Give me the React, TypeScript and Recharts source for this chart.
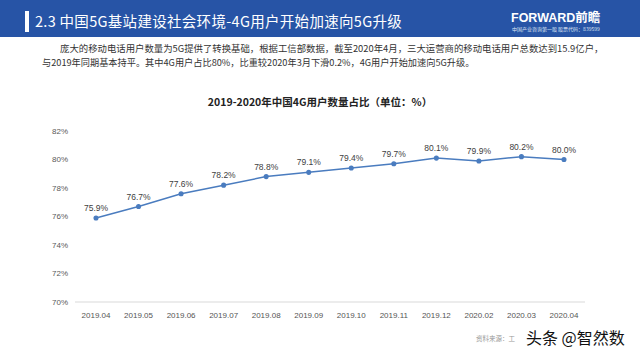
import React from "react";
import { LineChart, Line, XAxis, YAxis, LabelList } from "recharts";

const months = ["2019.04", "2019.05", "2019.06", "2019.07", "2019.08", "2019.09", "2019.10", "2019.11", "2019.12", "2020.02", "2020.03", "2020.04"];
const share4G = [75.9, 76.7, 77.6, 78.2, 78.8, 79.1, 79.4, 79.7, 80.1, 79.9, 80.2, 80.0];
const yTicks = [70, 72, 74, 76, 78, 80, 82];

const data = months.map((m, i) => ({ month: m, value: share4G[i] }));

const cjk = '"Noto Sans CJK SC", "Liberation Sans", sans-serif';
const latin = '"Liberation Sans", Arial, sans-serif';

export default function App() {
  return (
    <div style={{ position: "absolute", left: 0, top: 0, width: 640, height: 360, background: "#fff", overflow: "hidden" }}>
      {/* header */}
      <div style={{ position: "absolute", left: 0, top: 0, width: 640, height: 37, background: "#2754a6" }} />
      <div style={{ position: "absolute", left: 25, top: 11, width: 4, height: 21, background: "#fff" }} />
      <div style={{ position: "absolute", left: 35, top: 9, color: "#fff", fontFamily: cjk, fontSize: 14.5, lineHeight: "24px", whiteSpace: "nowrap", letterSpacing: 0.3 }}>
        2.3 中国5G基站建设社会环境-4G用户开始加速向5G升级
      </div>
      <div style={{ position: "absolute", left: 511, top: 9, color: "#fff", fontFamily: latin, fontWeight: 700, fontSize: 12.5, lineHeight: "16px", whiteSpace: "nowrap" }}>
        FORWARD<span style={{ fontFamily: cjk }}>前瞻</span>
      </div>
      <div style={{ position: "absolute", left: 512, top: 26, color: "#dfe6f3", fontFamily: cjk, fontSize: 5, lineHeight: "6px", whiteSpace: "nowrap" }}>
        中国产业咨询第一股 股票代码：839599
      </div>
      {/* paragraph */}
      <div style={{ position: "absolute", left: 60, top: 41, color: "#333", fontFamily: cjk, fontSize: 9.4, lineHeight: "14px", whiteSpace: "nowrap" }}>
        庞大的移动电话用户数量为5G提供了转换基础，根据工信部数据，截至2020年4月，三大运营商的移动电话用户总数达到15.9亿户，
      </div>
      <div style={{ position: "absolute", left: 42, top: 55, color: "#333", fontFamily: cjk, fontSize: 9.2, lineHeight: "14px", whiteSpace: "nowrap" }}>
        与2019年同期基本持平。其中4G用户占比80%，比重较2020年3月下滑0.2%，4G用户开始加速向5G升级。
      </div>
      {/* chart title */}
      <div style={{ position: "absolute", left: 0, top: 94, width: 640, textAlign: "center", color: "#222", fontFamily: cjk, fontWeight: 700, fontSize: 10.5, lineHeight: "16px" }}>
        2019-2020年中国4G用户数量占比（单位：%）
      </div>
      <div style={{ position: "absolute", left: 0, top: 0 }}>
        <LineChart width={640} height={360} data={data} margin={{ top: 131, right: 55, bottom: 28, left: 35 }}>
          <XAxis
            dataKey="month"
            height={30}
            padding={{ left: 21, right: 21 }}
            axisLine={{ stroke: "#d9d9d9" }}
            tickLine={false}
            tickSize={0}
            tickMargin={10}
            interval={0}
            tick={{ fill: "#555", fontSize: 8, fontFamily: latin }}
          />
          <YAxis
            width={40}
            domain={[70, 82]}
            ticks={yTicks}
            axisLine={false}
            tickLine={false}
            tickSize={0}
            tickMargin={7}
            tickFormatter={(v: number) => `${v}%`}
            tick={{ fill: "#595959", fontSize: 8, fontFamily: latin }}
          />
          <Line
            type="linear"
            dataKey="value"
            stroke="#4a7cbf"
            strokeWidth={1.5}
            dot={{ r: 1.8, fill: "#4a7cbf", stroke: "#4a7cbf" }}
            isAnimationActive={false}
          >
            <LabelList
              dataKey="value"
              position="top"
              offset={7}
              formatter={(v: number) => `${v.toFixed(1)}%`}
              style={{ fill: "#404040", fontSize: 8.5, fontFamily: latin }}
            />
          </Line>
        </LineChart>
      </div>
      {/* footer */}
      <div style={{ position: "absolute", left: 476, top: 333, color: "#999", fontFamily: cjk, fontSize: 6.5, lineHeight: "10px", whiteSpace: "nowrap" }}>
        资料来源：工
      </div>
      <div style={{ position: "absolute", left: 526, top: 327, color: "#111", fontFamily: cjk, fontSize: 16, lineHeight: "20px", whiteSpace: "nowrap", textShadow: "1px 1px 0 #fff, -1px -1px 0 #fff, 1px -1px 0 #fff, -1px 1px 0 #fff" }}>
        头条 @智然数
      </div>
    </div>
  );
}
